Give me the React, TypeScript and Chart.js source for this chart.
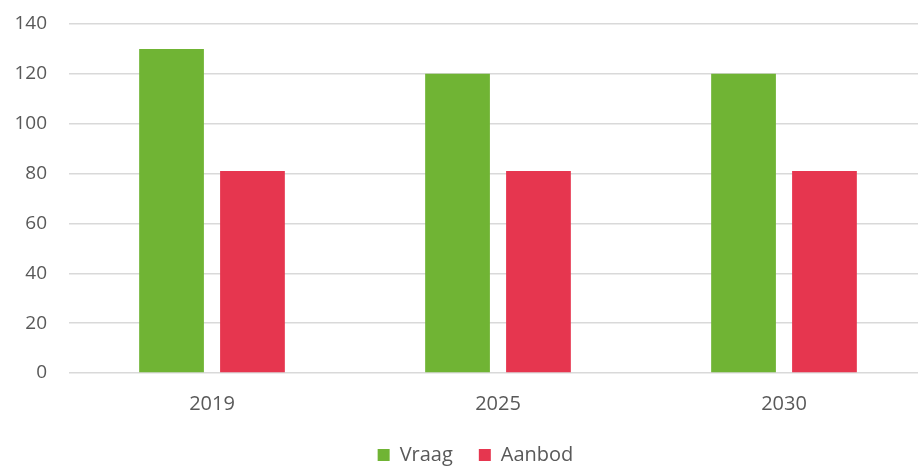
import React, { useEffect, useRef } from "react";
import { Chart, registerables } from "chart.js";

Chart.register(...registerables);

const categories = ["2019", "2025", "2030"];
const vraag = [130, 120, 120];
const aanbod = [81, 81, 81];
const yTicks = [0, 20, 40, 60, 80, 100, 120, 140];

const FONT = "'Open Sans', 'Noto Sans', sans-serif";
const TEXT = "#595959";

// Centre the legend under the plot area rather than the whole canvas.
const legendOffset = {
  id: "legendOffset",
  afterLayout(chart: any) {
    const lg = chart.legend;
    if (!lg) return;
    const shift = 12;
    lg.left += shift;
    lg.right += shift;
  },
};

export default function App() {
  const ref = useRef<HTMLCanvasElement | null>(null);

  useEffect(() => {
    if (!ref.current) return;
    const chart = new Chart(ref.current, {
      type: "bar",
      data: {
        labels: categories,
        datasets: [
          {
            label: "Vraag",
            data: vraag,
            backgroundColor: "#70b434",
            borderWidth: 0,
          },
          {
            label: "Aanbod",
            data: aanbod,
            backgroundColor: "#e6364f",
            borderWidth: 0,
          },
        ],
      },
      options: {
        animation: false,
        responsive: false,
        maintainAspectRatio: false,
        layout: { padding: { top: 24, left: 0, right: 0, bottom: -9 } },
        datasets: {
          bar: { categoryPercentage: 0.566, barPercentage: 0.8 },
        },
        scales: {
          x: {
            grid: { display: false, drawTicks: false },
            border: { display: false },
            ticks: { color: TEXT, font: { family: FONT, size: 20 }, padding: 19 },
            afterFit: (s: any) => {
              s.height = 46;
              s.paddingLeft = 0;
              s.paddingRight = 0;
            },
          },
          y: {
            min: 0,
            max: 140,
            afterBuildTicks: (s: any) => {
              s.ticks = yTicks.map((v) => ({ value: v }));
            },
            grid: { color: "#d9d9d9", lineWidth: 1.5, drawTicks: false },
            border: { display: false },
            ticks: { color: TEXT, font: { family: FONT, size: 19 }, padding: 22 },
            afterFit: (s: any) => {
              s.width = 69;
              s.paddingTop = 0;
              s.paddingBottom = 0;
            },
          },
        },
        plugins: {
          tooltip: { enabled: false },
          legend: {
            position: "bottom",
            labels: {
              color: TEXT,
              font: { family: FONT, size: 20 },
              boxWidth: 12,
              boxHeight: 12,
              padding: 26,
            },
          },
        },
      },
      plugins: [legendOffset],
    });
    return () => chart.destroy();
  }, []);

  return (
    <div
      style={{
        position: "fixed",
        left: 0,
        top: 0,
        width: 918,
        height: 466,
        overflow: "hidden",
        background: "#fff",
      }}
    >
      <canvas ref={ref} width={927} height={466} style={{ display: "block" }} />
    </div>
  );
}
